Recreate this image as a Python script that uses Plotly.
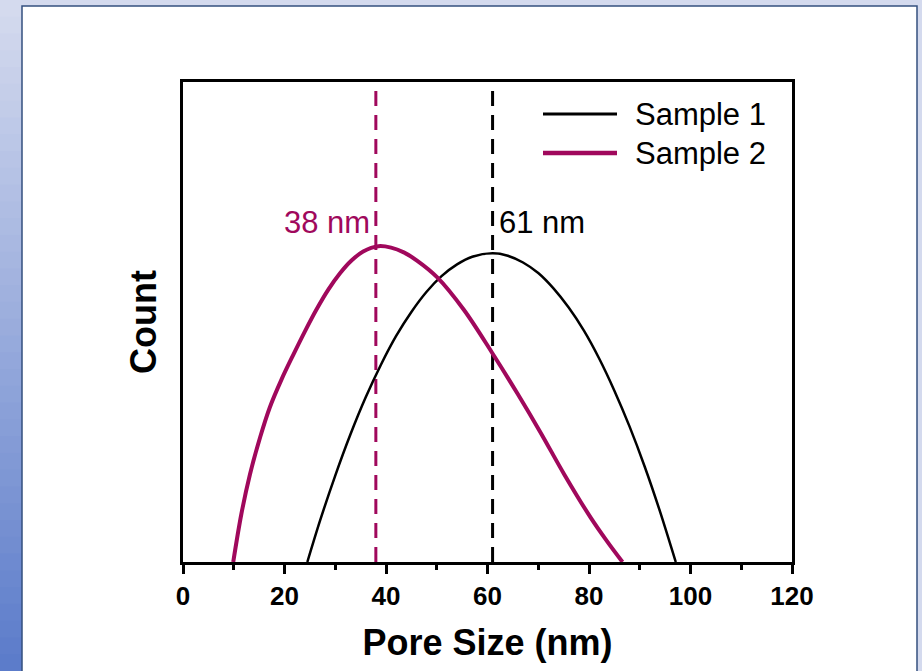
import plotly.graph_objects as go

# ---------------- data ----------------
series_names = ["Sample 1", "Sample 2"]
series_colors = ["#000000", "#A0085C"]

sample1_x = [24.5, 27, 30, 33, 36, 39, 42, 45, 48, 51, 54, 57, 61, 64, 67, 70, 73, 76, 79, 82, 85, 88, 91, 94, 97.1]
sample1_y = [0, 8.6, 18.0, 26.6, 34.3, 41.1, 47.1, 52.1, 56.3, 59.6, 62.0, 63.6, 64.3, 63.8, 62.4, 60.2, 57.0, 53.0, 48.2, 42.4, 35.7, 28.2, 19.8, 10.5, 0]

sample2_x = [9.9, 11.5, 13.2, 15.2, 17.1, 19.4, 21.7, 24.0, 26.3, 28.6, 30.9, 33.2, 35.5, 38.5, 41.0, 43.5, 46.1, 50.1, 55.3, 60.9, 65.9, 70.5, 75.1, 80.3, 83.5, 86.6]
sample2_y = [0, 10.0, 18.3, 26.0, 32.2, 38.0, 43.1, 48.0, 52.6, 56.7, 60.1, 62.8, 64.7, 65.8, 65.5, 64.5, 62.8, 59.3, 52.6, 43.6, 35.1, 26.9, 18.3, 9.3, 4.4, 0]

peak_positions = [61, 38]          # nm, dashed markers for Sample 1 / Sample 2
x_tick_values = [0, 20, 40, 60, 80, 100, 120]
x_tick_labels = ["0", "20", "40", "60", "80", "100", "120"]

# ---------------- layout geometry ----------------
W, H = 922, 671
L, R, T, B = 183, 792, 82, 562          # plot area in pixels
FONT = "Liberation Sans, Arial, sans-serif"


def px2x(px):
    return (px - L) / (R - L)


def px2y(py):
    return (B - py) / (B - T)


fig = go.Figure()

# dashed peak markers
for pos, col in zip(peak_positions, series_colors):
    fig.add_trace(go.Scatter(
        x=[pos, pos], y=[0, 100], mode="lines",
        line=dict(color=col, width=3, dash="15px,9px"),
        showlegend=False, hoverinfo="skip"))

# curves
fig.add_trace(go.Scatter(x=sample1_x, y=sample1_y, mode="lines", name=series_names[0],
                         line=dict(color=series_colors[0], width=2.5, shape="spline", smoothing=0.8),
                         showlegend=False))
fig.add_trace(go.Scatter(x=sample2_x, y=sample2_y, mode="lines", name=series_names[1],
                         line=dict(color=series_colors[1], width=4, shape="spline", smoothing=1.0),
                         showlegend=False))

shapes = []
# background gradient on the left strip
n_steps = 40
c_top = (212, 218, 238)
c_bot = (92, 124, 202)
for i in range(n_steps):
    t = i / (n_steps - 1)
    c = tuple(int(round(a + (b - a) * t)) for a, b in zip(c_top, c_bot))
    y0 = H * i / n_steps
    y1 = H * (i + 1) / n_steps + 1
    shapes.append(dict(type="rect", xref="paper", yref="paper",
                       x0=px2x(0), x1=px2x(23), y0=px2y(y1), y1=px2y(y0),
                       fillcolor="rgb(%d,%d,%d)" % c, line=dict(width=0), layer="below"))
# white panel with thin navy border
shapes.append(dict(type="rect", xref="paper", yref="paper",
                   x0=px2x(22), x1=px2x(917), y0=px2y(H + 20), y1=px2y(6),
                   fillcolor="white", line=dict(color="#34507F", width=1.5), layer="below"))

# manual legend
legend_rows_y = [114, 153]
for name, col, py, w in zip(series_names, series_colors, legend_rows_y, [3, 4.5]):
    shapes.append(dict(type="line", xref="paper", yref="paper",
                       x0=px2x(543), x1=px2x(617), y0=px2y(py), y1=px2y(py),
                       line=dict(color=col, width=w)))

annotations = []
for name, py in zip(series_names, legend_rows_y):
    annotations.append(dict(xref="paper", yref="paper", x=px2x(633), y=px2y(py),
                            text=name, showarrow=False, xanchor="left", yanchor="middle",
                            font=dict(family=FONT, size=31, color="#000000")))

# peak labels
label_y = (B - 222) / (B - T) * 100
annotations.append(dict(x=peak_positions[1], y=label_y, xref="x", yref="y",
                        text="%d nm" % peak_positions[1], showarrow=False,
                        xanchor="right", yanchor="middle", xshift=-4,
                        font=dict(family=FONT, size=31, color=series_colors[1])))
annotations.append(dict(x=peak_positions[0], y=label_y, xref="x", yref="y",
                        text="%d nm" % peak_positions[0], showarrow=False,
                        xanchor="left", yanchor="middle", xshift=4,
                        font=dict(family=FONT, size=31, color=series_colors[0])))

fig.update_layout(
    width=W, height=H,
    margin=dict(l=L, r=W - R, t=T, b=H - B, pad=0),
    paper_bgcolor="rgb(212,218,238)",
    plot_bgcolor="white",
    showlegend=False,
    shapes=shapes,
    annotations=annotations,
    xaxis=dict(
        range=[0, 120], showgrid=False, zeroline=False,
        showline=True, linecolor="black", linewidth=3, mirror=True,
        ticks="outside", ticklen=9, tickwidth=3, tickcolor="black",
        tickvals=x_tick_values, ticktext=x_tick_labels,
        tickfont=dict(family=FONT, size=26, color="black", weight="bold"),
        minor=dict(ticks="outside", ticklen=5, tickwidth=2.5, tickcolor="black", dtick=10, tick0=0),
        title=dict(text="Pore Size (nm)", standoff=20,
                   font=dict(family=FONT, size=36, color="black", weight="bold")),
        automargin=False,
    ),
    yaxis=dict(
        range=[0, 100], showgrid=False, zeroline=False,
        showline=True, linecolor="black", linewidth=3, mirror=True,
        ticks="", showticklabels=False,
        title=dict(text="Count", standoff=13,
                   font=dict(family=FONT, size=36, color="black", weight="bold")),
        automargin=False,
    ),
)

fig.write_html("out.html")
